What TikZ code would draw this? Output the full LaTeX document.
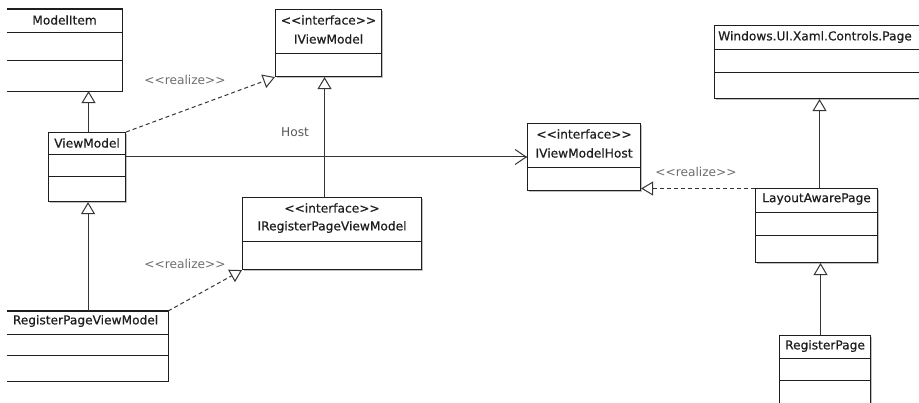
\documentclass[tikz,border=0pt]{standalone}
\usepackage{fontspec}
\setmainfont{DejaVu Sans}
\newfontfamily\clsfont{DejaVu Sans}[FakeBold=0.5]
\usetikzlibrary{arrows.meta,shadows}
\definecolor{ink}{HTML}{1E1E1E}
\definecolor{lbl}{HTML}{6E6E6E}
\begin{document}
\begin{tikzpicture}[x=1pt,y=-1pt,
  font=\fontsize{12.2}{14}\selectfont,
  cls/.style={draw=ink, line width=1.1pt, fill=white, inner sep=0pt, anchor=north west,
    drop shadow={shadow xshift=1.4pt, shadow yshift=-1.4pt, opacity=0.35, fill=black!70}},
  clsopen/.style={cls, draw=none},
  sep/.style={draw=ink, line width=1pt},
  title/.style={text=ink, inner sep=0pt, anchor=center, font=\clsfont\fontsize{12.2}{14}\selectfont},
  stereo/.style={text=lbl, inner sep=0pt},
  gen/.style={draw=ink!90, line width=1pt, -{Triangle[open, length=12pt, width=14pt, fill=white]}},
  real/.style={draw=ink!90, line width=1pt, dash pattern=on 4pt off 3pt, -{Triangle[open, length=12pt, width=14pt, fill=white]}},
  assoc/.style={draw=ink!90, line width=1pt, -{Straight Barb[length=11pt, width=15pt, line width=1pt]}}
]
\useasboundingbox (0,0) rectangle (919,403);
\fill[white] (0,0) rectangle (919,403);

% ModelItem
\node[clsopen, minimum width=114pt, minimum height=81pt] (mi) at (7,9) {};
\draw[sep, line width=1.1pt] (mi.north west) -- (mi.north east) -- (mi.south east) -- (mi.south west);
\draw[sep] ([yshift=-24pt]mi.north west) -- ([yshift=-24pt]mi.north east);
\draw[sep] ([yshift=-52pt]mi.north west) -- ([yshift=-52pt]mi.north east);
\node[title] (mit) at ([yshift=-11pt]mi.north) {ModelItem};

% ViewModel
\node[cls, minimum width=77pt, minimum height=69pt] (vm) at (48,132) {};
\draw[sep] ([yshift=-23pt]vm.north west) -- ([yshift=-23pt]vm.north east);
\draw[sep] ([yshift=-45pt]vm.north west) -- ([yshift=-45pt]vm.north east);
\node[title] (vmt) at ([yshift=-11pt]vm.north) {ViewModel};

% IViewModel
\node[cls, minimum width=106pt, minimum height=67pt] (ivm) at (275,9) {};
\draw[sep] ([yshift=-45pt]ivm.north west) -- ([yshift=-45pt]ivm.north east);
\node[title] (ivms) at ([yshift=-11pt]ivm.north) {<{}<interface>{}>};
\node[title] (ivmt) at ([yshift=-30pt]ivm.north) {IViewModel};

% IRegisterPageViewModel
\node[cls, minimum width=179pt, minimum height=72pt] (irp) at (242,197) {};
\draw[sep] ([yshift=-45pt]irp.north west) -- ([yshift=-45pt]irp.north east);
\node[title] (irps) at ([yshift=-11pt]irp.north) {<{}<interface>{}>};
\node[title] (irpt) at ([yshift=-30pt]irp.north) {IRegisterPageViewModel};

% RegisterPageViewModel
\node[clsopen, minimum width=160pt, minimum height=69pt] (rpvm) at (7,311) {};
\draw[sep, line width=1.1pt] (rpvm.north west) -- (rpvm.north east) -- (rpvm.south east) -- (rpvm.south west);
\draw[sep] ([yshift=-24pt]rpvm.north west) -- ([yshift=-24pt]rpvm.north east);
\draw[sep] ([yshift=-45pt]rpvm.north west) -- ([yshift=-45pt]rpvm.north east);
\node[title] (rpvmt) at ([yshift=-10pt,xshift=-2pt]rpvm.north) {RegisterPageViewModel};

% IViewModelHost
\node[cls, minimum width=113pt, minimum height=67pt] (ivmh) at (527,123) {};
\draw[sep] ([yshift=-45pt]ivmh.north west) -- ([yshift=-45pt]ivmh.north east);
\node[title] (ivmhs) at ([yshift=-11pt]ivmh.north) {<{}<interface>{}>};
\node[title] (ivmht) at ([yshift=-30pt]ivmh.north) {IViewModelHost};

% Windows.UI.Xaml.Controls.Page
\node[cls, minimum width=240pt, minimum height=73pt] (win) at (714,25) {};
\draw[sep] ([yshift=-25pt]win.north west) -- ([yshift=-25pt]win.north east);
\draw[sep] ([yshift=-48pt]win.north west) -- ([yshift=-48pt]win.north east);
\node[title, anchor=west] (wint) at ([xshift=4pt,yshift=-12pt]win.north west) {Windows.UI.Xaml.Controls.Page};

% LayoutAwarePage
\node[cls, minimum width=122pt, minimum height=74pt] (lap) at (755,188) {};
\draw[sep] ([yshift=-25pt]lap.north west) -- ([yshift=-25pt]lap.north east);
\draw[sep] ([yshift=-48pt]lap.north west) -- ([yshift=-48pt]lap.north east);
\node[title] (lapt) at ([yshift=-11pt]lap.north) {LayoutAwarePage};

% RegisterPage
\node[cls, minimum width=91pt, minimum height=85pt] (rp) at (779,335) {};
\draw[sep] ([yshift=-24pt]rp.north west) -- ([yshift=-24pt]rp.north east);
\draw[sep] ([yshift=-46pt]rp.north west) -- ([yshift=-46pt]rp.north east);
\node[title] (rpt) at ([yshift=-11pt]rp.north) {RegisterPage};

% generalizations
\draw[gen] ([xshift=1.5pt]vm.north) -- ([xshift=1.5pt]vm.north |- mi.south);
\draw[gen] ([xshift=1pt]rpvm.north -| vm.north) -- ([xshift=1pt]vm.south);
\draw[gen] ([xshift=-7.5pt]irp.north) -- ([xshift=-7.5pt]irp.north |- ivm.south);
\draw[gen] ([xshift=3pt]lap.north) -- ([xshift=3pt]lap.north |- win.south);
\draw[gen] ([xshift=-4.5pt]rp.north) -- ([xshift=-4.5pt]rp.north |- lap.south);

% realizations
\draw[real] (vm.north east) -- (ivm.south west);
\draw[real] (rpvm.north east) -- (irp.south west);
\draw[real] ([yshift=-0.5pt]lap.north west) -- ([yshift=-0.5pt]lap.north west -| ivmh.east);

% association
\draw[assoc] ([yshift=-25pt]vm.north east) -- ([yshift=-25pt]vm.north east -| ivmh.west);
\fill[ink] ([yshift=-25pt]vm.north east -| ivmh.west) circle (1pt);

% labels
\node[stereo] (r1) at (185,80) {<{}<realize>{}>};
\node[stereo] (r2) at (185,264) {<{}<realize>{}>};
\node[stereo] (r3) at (696,172) {<{}<realize>{}>};
\node[stereo, text=black!65] (host) at (295,132) {Host};
\end{tikzpicture}
\end{document}
